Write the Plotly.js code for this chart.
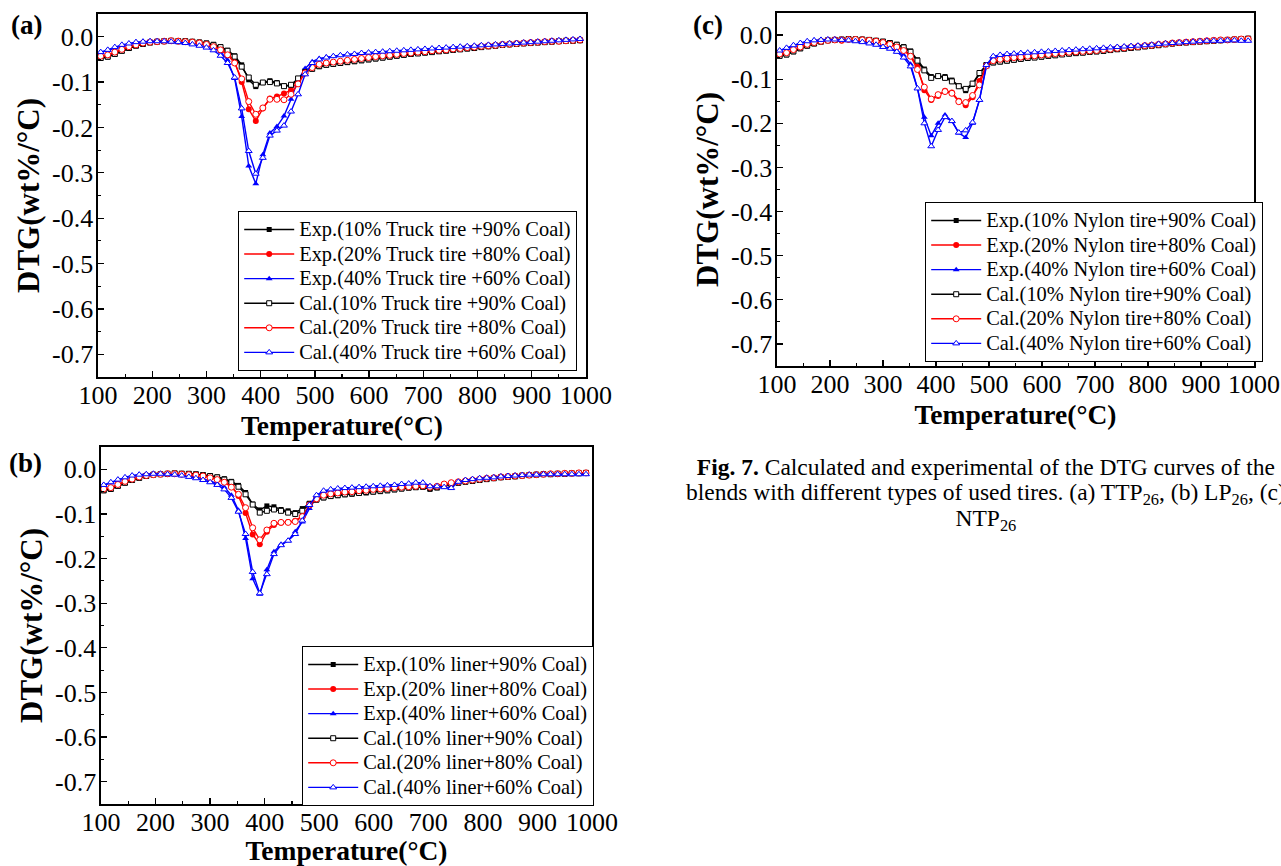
<!DOCTYPE html>
<html>
<head>
<meta charset="utf-8">
<script src="https://cdn.plot.ly/plotly-3.0.1.min.js"></script>
<style>html,body{margin:0;padding:0;background:#fff;}#chart{width:1281px;height:866px;}</style>
</head>
<body>
<div id="chart"></div>
<script>
// Temperature grid (°C) at which the curves are sampled (marker positions)
const temperature = [105,118,131,144,157,170,183,196,209,222,235,248,261,274,287,300,313,326,339,352,
  365,378,391,404,417,430,443,456,469,482,495,
  508,521,534,547,560,573,586,599,612,625,638,651,664,677,690,703,716,729,742,755,768,781,794,807,820,833,846,859,872,885,898,911,924,937,950,963,976,989];

// ---- (a) Truck tire ----
const a_exp10 = [-0.048,-0.045,-0.039,-0.032,-0.026,-0.020,-0.016,-0.013,-0.011,-0.010,-0.009,-0.009,-0.010,-0.011,-0.012,-0.014,-0.017,-0.022,-0.030,-0.042,
  -0.062,-0.095,-0.110,-0.101,-0.097,-0.101,-0.108,-0.108,-0.095,-0.075,-0.070,
  -0.066,-0.063,-0.061,-0.059,-0.057,-0.055,-0.053,-0.051,-0.049,-0.047,-0.045,-0.043,-0.041,-0.039,-0.037,-0.036,-0.034,-0.033,-0.031,-0.030,-0.028,-0.027,-0.025,-0.023,-0.022,-0.020,-0.019,-0.017,-0.016,-0.015,-0.014,-0.013,-0.012,-0.011,-0.010,-0.010,-0.009,-0.008];
const a_exp20 = [-0.044,-0.041,-0.035,-0.029,-0.023,-0.018,-0.015,-0.012,-0.011,-0.010,-0.009,-0.009,-0.010,-0.011,-0.013,-0.016,-0.020,-0.026,-0.036,-0.055,
  -0.100,-0.160,-0.186,-0.158,-0.136,-0.132,-0.125,-0.118,-0.097,-0.078,-0.068,
  -0.062,-0.059,-0.057,-0.055,-0.053,-0.051,-0.049,-0.047,-0.045,-0.043,-0.042,-0.040,-0.038,-0.037,-0.035,-0.034,-0.032,-0.031,-0.030,-0.028,-0.027,-0.025,-0.024,-0.022,-0.021,-0.019,-0.018,-0.017,-0.015,-0.014,-0.013,-0.012,-0.011,-0.011,-0.010,-0.009,-0.008,-0.008];
const a_exp40 = [-0.035,-0.030,-0.025,-0.020,-0.016,-0.013,-0.011,-0.010,-0.010,-0.010,-0.010,-0.011,-0.012,-0.014,-0.016,-0.020,-0.025,-0.033,-0.052,-0.092,
  -0.176,-0.285,-0.324,-0.260,-0.212,-0.198,-0.175,-0.138,-0.095,-0.070,-0.055,
  -0.048,-0.045,-0.043,-0.041,-0.040,-0.039,-0.037,-0.036,-0.035,-0.034,-0.033,-0.032,-0.031,-0.030,-0.029,-0.028,-0.027,-0.026,-0.025,-0.024,-0.023,-0.022,-0.021,-0.020,-0.019,-0.018,-0.017,-0.016,-0.015,-0.014,-0.013,-0.012,-0.011,-0.010,-0.009,-0.008,-0.007,-0.006];
const a_cal10 = [-0.047,-0.044,-0.038,-0.031,-0.025,-0.020,-0.016,-0.013,-0.011,-0.010,-0.009,-0.010,-0.010,-0.011,-0.013,-0.015,-0.018,-0.023,-0.031,-0.044,
  -0.066,-0.090,-0.106,-0.101,-0.100,-0.103,-0.109,-0.106,-0.092,-0.078,-0.071,
  -0.065,-0.062,-0.060,-0.058,-0.056,-0.054,-0.052,-0.050,-0.048,-0.046,-0.044,-0.042,-0.040,-0.038,-0.037,-0.035,-0.034,-0.032,-0.031,-0.029,-0.028,-0.026,-0.025,-0.023,-0.021,-0.020,-0.018,-0.017,-0.016,-0.015,-0.014,-0.013,-0.012,-0.011,-0.010,-0.009,-0.009,-0.008];
const a_cal20 = [-0.043,-0.040,-0.034,-0.028,-0.022,-0.018,-0.014,-0.012,-0.011,-0.010,-0.009,-0.010,-0.011,-0.012,-0.014,-0.017,-0.022,-0.029,-0.040,-0.058,
  -0.093,-0.143,-0.171,-0.157,-0.138,-0.138,-0.139,-0.127,-0.104,-0.080,-0.068,
  -0.061,-0.058,-0.056,-0.054,-0.052,-0.050,-0.048,-0.046,-0.044,-0.042,-0.041,-0.039,-0.037,-0.036,-0.034,-0.033,-0.031,-0.030,-0.029,-0.027,-0.026,-0.024,-0.023,-0.021,-0.020,-0.019,-0.017,-0.016,-0.015,-0.014,-0.013,-0.012,-0.011,-0.010,-0.010,-0.009,-0.008,-0.007];
const a_cal40 = [-0.034,-0.029,-0.023,-0.018,-0.015,-0.012,-0.011,-0.010,-0.010,-0.010,-0.011,-0.012,-0.014,-0.017,-0.020,-0.024,-0.030,-0.042,-0.058,-0.090,
  -0.158,-0.252,-0.302,-0.267,-0.218,-0.207,-0.196,-0.165,-0.127,-0.083,-0.058,
  -0.050,-0.046,-0.043,-0.041,-0.039,-0.038,-0.036,-0.035,-0.034,-0.033,-0.032,-0.031,-0.030,-0.029,-0.028,-0.027,-0.026,-0.025,-0.024,-0.023,-0.022,-0.021,-0.020,-0.019,-0.018,-0.017,-0.016,-0.015,-0.014,-0.013,-0.012,-0.011,-0.010,-0.009,-0.008,-0.007,-0.006,-0.005];

// ---- (b) Liner ----
const b_exp10 = [-0.048,-0.045,-0.038,-0.031,-0.025,-0.020,-0.015,-0.012,-0.011,-0.010,-0.009,-0.009,-0.010,-0.011,-0.012,-0.014,-0.017,-0.021,-0.027,-0.036,
  -0.052,-0.078,-0.091,-0.082,-0.084,-0.090,-0.093,-0.097,-0.088,-0.076,-0.068,
  -0.064,-0.061,-0.059,-0.057,-0.056,-0.054,-0.053,-0.051,-0.050,-0.048,-0.046,-0.044,-0.042,-0.041,-0.040,-0.045,-0.042,-0.036,-0.033,-0.031,-0.028,-0.026,-0.024,-0.022,-0.020,-0.018,-0.017,-0.016,-0.014,-0.013,-0.012,-0.011,-0.011,-0.010,-0.010,-0.009,-0.009,-0.008];
const b_exp20 = [-0.045,-0.042,-0.035,-0.028,-0.023,-0.018,-0.014,-0.012,-0.011,-0.010,-0.010,-0.010,-0.011,-0.012,-0.014,-0.017,-0.021,-0.026,-0.036,-0.060,
  -0.098,-0.146,-0.168,-0.140,-0.125,-0.120,-0.118,-0.115,-0.105,-0.082,-0.068,
  -0.060,-0.057,-0.055,-0.053,-0.051,-0.050,-0.048,-0.047,-0.045,-0.044,-0.042,-0.041,-0.040,-0.039,-0.038,-0.041,-0.039,-0.034,-0.031,-0.029,-0.027,-0.025,-0.023,-0.021,-0.019,-0.018,-0.016,-0.015,-0.014,-0.013,-0.012,-0.011,-0.010,-0.010,-0.009,-0.009,-0.008,-0.008];
const b_exp40 = [-0.036,-0.030,-0.024,-0.019,-0.015,-0.012,-0.011,-0.010,-0.010,-0.010,-0.011,-0.012,-0.014,-0.017,-0.021,-0.026,-0.032,-0.040,-0.058,-0.092,
  -0.155,-0.245,-0.280,-0.225,-0.185,-0.168,-0.160,-0.140,-0.118,-0.088,-0.062,
  -0.050,-0.047,-0.045,-0.043,-0.042,-0.041,-0.040,-0.039,-0.038,-0.037,-0.036,-0.034,-0.033,-0.031,-0.030,-0.038,-0.040,-0.037,-0.034,-0.028,-0.025,-0.023,-0.021,-0.019,-0.018,-0.017,-0.016,-0.015,-0.014,-0.013,-0.012,-0.011,-0.011,-0.010,-0.010,-0.010,-0.010,-0.009];
const b_cal10 = [-0.047,-0.044,-0.037,-0.030,-0.024,-0.019,-0.015,-0.012,-0.011,-0.010,-0.009,-0.010,-0.010,-0.011,-0.013,-0.015,-0.018,-0.023,-0.029,-0.039,
  -0.056,-0.079,-0.097,-0.093,-0.090,-0.093,-0.097,-0.100,-0.093,-0.078,-0.068,
  -0.063,-0.060,-0.058,-0.056,-0.054,-0.053,-0.051,-0.050,-0.048,-0.047,-0.045,-0.043,-0.041,-0.040,-0.039,-0.042,-0.040,-0.036,-0.033,-0.030,-0.028,-0.026,-0.024,-0.022,-0.020,-0.018,-0.017,-0.016,-0.014,-0.013,-0.012,-0.011,-0.011,-0.010,-0.010,-0.009,-0.009,-0.008];
const b_cal20 = [-0.044,-0.041,-0.034,-0.027,-0.022,-0.017,-0.014,-0.012,-0.011,-0.010,-0.010,-0.011,-0.012,-0.013,-0.015,-0.019,-0.023,-0.029,-0.040,-0.056,
  -0.086,-0.131,-0.158,-0.136,-0.121,-0.119,-0.119,-0.117,-0.106,-0.080,-0.066,
  -0.058,-0.055,-0.053,-0.051,-0.050,-0.048,-0.047,-0.045,-0.044,-0.043,-0.041,-0.040,-0.039,-0.038,-0.037,-0.040,-0.038,-0.033,-0.030,-0.028,-0.026,-0.024,-0.022,-0.020,-0.019,-0.017,-0.016,-0.015,-0.014,-0.013,-0.012,-0.011,-0.010,-0.010,-0.009,-0.009,-0.008,-0.008];
const b_cal40 = [-0.035,-0.029,-0.023,-0.018,-0.014,-0.012,-0.011,-0.010,-0.010,-0.011,-0.012,-0.014,-0.017,-0.020,-0.024,-0.029,-0.035,-0.045,-0.064,-0.095,
  -0.145,-0.230,-0.278,-0.235,-0.190,-0.170,-0.160,-0.145,-0.115,-0.080,-0.058,
  -0.048,-0.045,-0.043,-0.042,-0.041,-0.040,-0.039,-0.038,-0.037,-0.036,-0.035,-0.033,-0.032,-0.030,-0.030,-0.038,-0.038,-0.040,-0.042,-0.028,-0.024,-0.022,-0.020,-0.019,-0.018,-0.016,-0.015,-0.014,-0.013,-0.012,-0.012,-0.011,-0.011,-0.011,-0.011,-0.011,-0.011,-0.011];

// ---- (c) Nylon tire ----
const c_exp10 = [-0.048,-0.045,-0.038,-0.031,-0.025,-0.020,-0.015,-0.012,-0.011,-0.010,-0.009,-0.009,-0.010,-0.011,-0.012,-0.014,-0.017,-0.021,-0.026,-0.036,
  -0.056,-0.077,-0.094,-0.093,-0.094,-0.102,-0.115,-0.126,-0.112,-0.088,-0.068,
  -0.063,-0.061,-0.059,-0.057,-0.055,-0.053,-0.051,-0.050,-0.048,-0.046,-0.044,-0.043,-0.041,-0.040,-0.039,-0.038,-0.036,-0.034,-0.033,-0.031,-0.030,-0.028,-0.026,-0.025,-0.023,-0.021,-0.020,-0.018,-0.017,-0.016,-0.015,-0.014,-0.013,-0.012,-0.011,-0.010,-0.009,-0.009];
const c_exp20 = [-0.044,-0.041,-0.034,-0.028,-0.022,-0.018,-0.014,-0.012,-0.011,-0.013,-0.010,-0.010,-0.010,-0.011,-0.013,-0.016,-0.020,-0.025,-0.033,-0.045,
  -0.072,-0.125,-0.147,-0.138,-0.126,-0.130,-0.149,-0.159,-0.141,-0.104,-0.068,
  -0.060,-0.057,-0.055,-0.053,-0.051,-0.050,-0.048,-0.046,-0.045,-0.043,-0.042,-0.040,-0.039,-0.038,-0.037,-0.036,-0.034,-0.033,-0.031,-0.030,-0.028,-0.027,-0.025,-0.024,-0.022,-0.020,-0.019,-0.018,-0.016,-0.015,-0.014,-0.013,-0.012,-0.012,-0.011,-0.010,-0.010,-0.009];
const c_exp40 = [-0.036,-0.030,-0.024,-0.019,-0.015,-0.012,-0.011,-0.010,-0.010,-0.010,-0.011,-0.012,-0.014,-0.017,-0.021,-0.026,-0.030,-0.036,-0.046,-0.066,
  -0.121,-0.186,-0.228,-0.200,-0.181,-0.195,-0.222,-0.232,-0.200,-0.147,-0.072,
  -0.050,-0.047,-0.045,-0.043,-0.042,-0.041,-0.040,-0.039,-0.038,-0.037,-0.036,-0.035,-0.034,-0.033,-0.032,-0.031,-0.030,-0.029,-0.028,-0.027,-0.026,-0.025,-0.024,-0.022,-0.021,-0.019,-0.018,-0.017,-0.016,-0.015,-0.014,-0.013,-0.013,-0.012,-0.012,-0.012,-0.012,-0.012];
const c_cal10 = [-0.047,-0.044,-0.037,-0.030,-0.024,-0.019,-0.015,-0.012,-0.011,-0.010,-0.009,-0.010,-0.010,-0.011,-0.013,-0.015,-0.018,-0.022,-0.028,-0.038,
  -0.058,-0.080,-0.097,-0.093,-0.097,-0.105,-0.116,-0.122,-0.110,-0.086,-0.068,
  -0.062,-0.060,-0.058,-0.056,-0.054,-0.052,-0.051,-0.049,-0.047,-0.046,-0.044,-0.042,-0.041,-0.040,-0.038,-0.037,-0.036,-0.034,-0.032,-0.031,-0.029,-0.028,-0.026,-0.024,-0.023,-0.021,-0.019,-0.018,-0.017,-0.016,-0.015,-0.014,-0.013,-0.012,-0.011,-0.010,-0.009,-0.008];
const c_cal20 = [-0.043,-0.040,-0.033,-0.027,-0.021,-0.017,-0.014,-0.012,-0.011,-0.011,-0.010,-0.010,-0.011,-0.012,-0.014,-0.017,-0.021,-0.027,-0.035,-0.048,
  -0.078,-0.118,-0.145,-0.135,-0.128,-0.132,-0.151,-0.153,-0.137,-0.113,-0.070,
  -0.058,-0.055,-0.053,-0.051,-0.050,-0.048,-0.047,-0.045,-0.044,-0.042,-0.041,-0.039,-0.038,-0.037,-0.036,-0.035,-0.033,-0.032,-0.030,-0.029,-0.027,-0.026,-0.024,-0.023,-0.021,-0.020,-0.018,-0.017,-0.016,-0.015,-0.014,-0.013,-0.012,-0.011,-0.011,-0.010,-0.009,-0.009];
const c_cal40 = [-0.035,-0.029,-0.023,-0.018,-0.014,-0.012,-0.011,-0.010,-0.010,-0.011,-0.012,-0.014,-0.016,-0.019,-0.022,-0.027,-0.031,-0.038,-0.051,-0.071,
  -0.121,-0.200,-0.252,-0.215,-0.186,-0.195,-0.221,-0.216,-0.198,-0.147,-0.068,
  -0.048,-0.045,-0.043,-0.042,-0.041,-0.040,-0.039,-0.038,-0.037,-0.036,-0.035,-0.034,-0.033,-0.032,-0.031,-0.030,-0.029,-0.028,-0.027,-0.026,-0.025,-0.024,-0.023,-0.022,-0.020,-0.019,-0.018,-0.017,-0.016,-0.015,-0.014,-0.013,-0.013,-0.013,-0.012,-0.012,-0.013,-0.013];

// Legend labels
const a_names = ['Exp.(10% Truck tire +90% Coal)','Exp.(20% Truck tire +80% Coal)','Exp.(40% Truck tire +60% Coal)',
                 'Cal.(10% Truck tire +90% Coal)','Cal.(20% Truck tire +80% Coal)','Cal.(40% Truck tire +60% Coal)'];
const b_names = ['Exp.(10% liner+90% Coal)','Exp.(20% liner+80% Coal)','Exp.(40% liner+60% Coal)',
                 'Cal.(10% liner+90% Coal)','Cal.(20% liner+80% Coal)','Cal.(40% liner+60% Coal)'];
const c_names = ['Exp.(10% Nylon tire+90% Coal)','Exp.(20% Nylon tire+80% Coal)','Exp.(40% Nylon tire+60% Coal)',
                 'Cal.(10% Nylon tire+90% Coal)','Cal.(20% Nylon tire+80% Coal)','Cal.(40% Nylon tire+60% Coal)'];

// Tick labels
const xTickVals = [100,200,300,400,500,600,700,800,900,1000];
const xTickText = ['100','200','300','400','500','600','700','800','900','1000'];
const yTickVals = [0,-0.1,-0.2,-0.3,-0.4,-0.5,-0.6,-0.7];
const yTickText = ['0.0','-0.1','-0.2','-0.3','-0.4','-0.5','-0.6','-0.7'];

const FONT = 'Liberation Serif, Times New Roman, serif';
const colors = ['#000000','#ff0000','#0000ff','#000000','#ff0000','#0000ff'];
const symbols = ['square','circle','triangle-up','square','circle','triangle-up'];
const sizes = [5,6,6,5,6,6];

function panelTraces(series, names, xa, ya, leg) {
  return series.map((y, i) => {
    const open = i >= 3;
    return {
      type: 'scatter', mode: 'lines+markers', x: temperature, y: y,
      name: '<span style="font-size:20.4px">' + names[i] + '</span>',
      xaxis: xa, yaxis: ya, legend: leg, cliponaxis: false,
      line: {color: colors[i], width: 1.4},
      marker: {symbol: symbols[i], size: sizes[i],
               color: open ? '#ffffff' : colors[i],
               line: {color: colors[i], width: open ? 1 : 0}}
    };
  });
}

const data = [].concat(
  panelTraces([a_exp10,a_exp20,a_exp40,a_cal10,a_cal20,a_cal40], a_names, 'x', 'y', 'legend'),
  panelTraces([b_exp10,b_exp20,b_exp40,b_cal10,b_cal20,b_cal40], b_names, 'x2', 'y2', 'legend2'),
  panelTraces([c_exp10,c_exp20,c_exp40,c_cal10,c_cal20,c_cal40], c_names, 'x3', 'y3', 'legend3')
);

function xAxis(dom, anchor) {
  return {domain: dom, anchor: anchor, range: [100, 1000], showgrid: false, zeroline: false,
    showline: true, linecolor: '#000', linewidth: 1.6, mirror: true,
    ticks: 'inside', ticklen: 6, tickwidth: 1.3, tickcolor: '#000',
    tickvals: xTickVals, ticktext: xTickText, ticklabelstandoff: -6,
    minor: {ticks: 'inside', ticklen: 3, tickwidth: 1.2, tickcolor: '#000', tickvals: [150,250,350,450,550,650,750,850,950]},
    tickfont: {family: FONT, size: 26, color: '#000'},
    title: {text: '<b>Temperature(°C)</b>', font: {family: FONT, size: 27.5, color: '#000'}, standoff: 4}};
}
function yAxis(dom, anchor) {
  return {domain: dom, anchor: anchor, range: [-0.75, 0.05], showgrid: false, zeroline: false,
    showline: true, linecolor: '#000', linewidth: 1.6, mirror: true,
    ticks: 'inside', ticklen: 6, tickwidth: 1.3, tickcolor: '#000',
    tickvals: yTickVals, ticktext: yTickText, ticklabelstandoff: -2,
    minor: {ticks: 'inside', ticklen: 3, tickwidth: 1.2, tickcolor: '#000', tickvals: [0.05,-0.05,-0.15,-0.25,-0.35,-0.45,-0.55,-0.65,-0.75]},
    tickfont: {family: FONT, size: 26, color: '#000'},
    title: {text: '<b>DTG(wt%/°C)</b>', font: {family: FONT, size: 31, color: '#000'}, standoff: 3}};
}
function legendBox(x, y) {
  return {x: x, y: y, xref: 'paper', yref: 'paper', xanchor: 'left', yanchor: 'top',
    bgcolor: '#ffffff', bordercolor: '#000', borderwidth: 1.2, itemwidth: 50,
    font: {family: FONT, size: 16.6, color: '#000'}, tracegroupgap: 0};
}

const W = 1281, H = 866;
const layout = {
  width: W, height: H, margin: {l: 0, r: 0, t: 0, b: 0},
  paper_bgcolor: '#fff', plot_bgcolor: '#fff', showlegend: true,
  font: {family: FONT, color: '#000'},
  xaxis: xAxis([98/W, 586/W], 'y'),
  yaxis: yAxis([1-377/H, 1-14/H], 'x'),
  xaxis2: xAxis([101/W, 592/W], 'y2'),
  yaxis2: yAxis([1-804/H, 1-447/H], 'x2'),
  xaxis3: xAxis([777/W, 1254/W], 'y3'),
  yaxis3: yAxis([1-366/H, 1-13/H], 'x3'),
  legend: legendBox(238/W, 1-211/H),
  legend2: legendBox(302/W, 1-646/H),
  legend3: legendBox(925/W, 1-202/H),
  annotations: [
    {text: '<b>(a)</b>', x: 26/W, y: 1-25/H, xref: 'paper', yref: 'paper', xanchor: 'center', yanchor: 'middle', showarrow: false, font: {family: FONT, size: 27, color: '#000'}},
    {text: '<b>(b)</b>', x: 25/W, y: 1-463/H, xref: 'paper', yref: 'paper', xanchor: 'center', yanchor: 'middle', showarrow: false, font: {family: FONT, size: 27, color: '#000'}},
    {text: '<b>(c)</b>', x: 708/W, y: 1-25/H, xref: 'paper', yref: 'paper', xanchor: 'center', yanchor: 'middle', showarrow: false, font: {family: FONT, size: 27, color: '#000'}},
    {text: '<span style="font-size:23.5px"><b>Fig. 7.</b> Calculated and experimental of the DTG curves of the</span><br><span style="font-size:23.5px">blends with different types of used tires. (a) TTP<sub>26</sub>, (b) LP<sub>26</sub>, (c)</span><br><span style="font-size:23.5px">NTP<sub>26</sub></span>',
     x: 986/W, y: 1-452/H, xref: 'paper', yref: 'paper', xanchor: 'center', yanchor: 'top', align: 'center',
     showarrow: false, font: {family: FONT, size: 19.6, color: '#000'}}
  ]
};

Plotly.newPlot('chart', data, layout, {displayModeBar: false, staticPlot: true});
</script>
</body>
</html>
